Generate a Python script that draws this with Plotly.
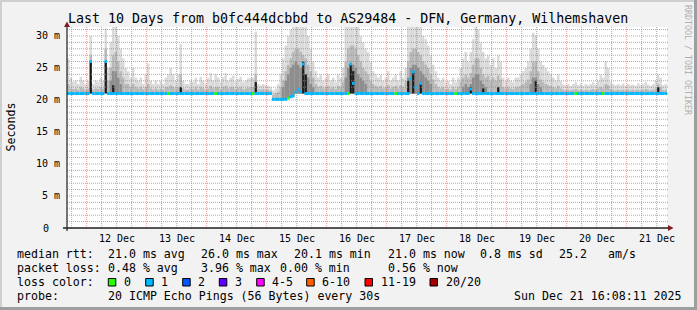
import plotly.graph_objects as go
import pandas as pd
import numpy as np

# ---------------- data ----------------
T_START = pd.Timestamp("2025-12-11 16:08:11")
T_END = pd.Timestamp("2025-12-21 16:08:11")

# hourly maximum of the smoke (ms)
smoke_max = [
    26.5, 23.5, 22.8, 23.0, 22.5, 23.6, 23.0, 22.5, 23.0, 30.0, 22.5, 23.0, 22.8, 23.5, 23.0, 31.2, 25.0, 29.0, 31.4, 31.4, 30.0, 28.0, 26.5, 25.0,
    24.5, 23.5, 25.0, 23.5, 23.0, 23.5, 22.5, 24.0, 25.7, 23.0, 22.5, 23.0, 22.5, 23.0, 22.5, 23.5, 24.0, 25.0, 24.0, 23.0, 24.0, 28.7, 23.0, 22.5,
    22.5, 23.0, 22.8, 23.5, 22.5, 23.6, 23.0, 22.6, 23.4, 24.2, 23.0, 24.0, 23.5, 22.8, 23.6, 24.2, 23.0, 23.5, 23.8, 22.8, 23.3, 23.6, 22.8, 23.0,
    23.4, 23.5, 23.5, 30.7, 22.5, 22.3, 22.5, 22.3, 22.2, 22.0, 21.5, 21.8, 22.5, 24.0, 26.5, 28.5, 30.0, 31.0, 31.4, 31.4, 31.4, 31.4, 31.4, 31.4,
    30.0, 28.0, 26.0, 24.5, 23.5, 24.0, 23.0, 23.5, 24.0, 23.0, 23.5, 22.8, 24.0, 23.5, 25.0, 31.4, 31.4, 31.4, 31.4, 31.4, 31.4, 30.0, 29.0, 28.0,
    27.5, 26.0, 24.5, 24.0, 23.5, 24.0, 23.0, 23.5, 24.5, 23.0, 23.5, 24.0, 23.0, 24.5, 23.5, 25.0, 31.4, 31.4, 31.4, 31.4, 31.4, 31.4, 30.0, 29.5,
    28.5, 27.0, 25.5, 24.5, 23.5, 23.0, 23.5, 22.8, 23.0, 22.5, 23.5, 22.8, 23.5, 25.0, 26.5, 27.5, 26.0, 27.5, 29.5, 31.4, 31.0, 29.0, 27.5, 26.5,
    27.0, 25.5, 26.5, 25.0, 27.0, 26.0, 23.5, 23.0, 23.5, 23.0, 22.8, 23.5, 23.5, 24.0, 24.5, 25.0, 26.0, 28.0, 30.5, 30.0, 28.0, 26.0, 25.5, 25.0,
    24.5, 24.0, 23.5, 23.0, 24.0, 23.0, 22.5, 22.3, 22.5, 22.2, 22.5, 22.8, 22.3, 22.6, 22.2, 22.5, 22.3, 22.5, 22.8, 22.4, 23.0, 24.0, 23.5, 26.0,
    25.0, 22.8, 22.5, 22.3, 22.5, 22.3, 22.6, 22.2, 22.5, 22.3, 22.4, 22.2, 22.6, 22.3, 22.5, 22.8, 22.4, 22.2, 22.5, 23.0, 24.0, 23.5, 22.3, 22.5,
]

# hourly upper edge of the denser (middle) smoke (ms)
smoke_mid = [
    22.5, 21.8, 21.7, 21.8, 21.6, 22.0, 21.8, 21.6, 21.8, 27.0, 21.6, 21.8, 21.7, 22.0, 21.8, 28.0, 23.0, 25.0, 27.0, 27.5, 26.0, 24.5, 23.5, 22.5,
    22.5, 22.0, 22.5, 22.0, 21.8, 22.0, 21.7, 22.0, 22.5, 21.8, 21.6, 21.8, 21.6, 21.8, 21.6, 22.0, 22.0, 22.3, 22.0, 21.8, 22.0, 24.0, 21.8, 21.6,
    21.6, 21.8, 21.7, 22.0, 21.6, 22.0, 21.8, 21.6, 21.8, 22.2, 21.8, 22.0, 22.0, 21.7, 22.0, 22.2, 21.8, 22.0, 22.0, 21.7, 21.9, 22.0, 21.7, 21.8,
    21.9, 22.0, 22.0, 24.0, 21.7, 21.6, 21.7, 21.6, 21.6, 21.5, 20.8, 21.0, 21.3, 22.0, 23.0, 24.5, 25.5, 26.5, 27.5, 28.0, 28.0, 27.5, 27.0, 26.5,
    25.5, 24.5, 23.5, 22.5, 22.0, 22.2, 21.8, 22.0, 22.2, 21.8, 22.0, 21.7, 22.2, 22.0, 22.8, 26.0, 28.0, 28.5, 28.5, 28.0, 27.0, 26.0, 25.0, 24.5,
    24.0, 23.0, 22.5, 22.2, 22.0, 22.2, 21.8, 22.0, 22.3, 21.8, 22.0, 22.2, 21.8, 22.3, 22.0, 23.0, 26.0, 27.5, 28.0, 28.0, 27.5, 27.0, 26.0, 25.5,
    25.0, 24.0, 23.2, 22.5, 22.0, 21.8, 22.0, 21.7, 21.8, 21.6, 22.0, 21.7, 22.0, 22.8, 23.5, 24.0, 23.5, 24.2, 25.5, 26.5, 26.5, 25.0, 24.0, 23.5,
    23.8, 23.0, 23.5, 23.0, 23.8, 23.2, 22.0, 21.8, 22.0, 21.8, 21.7, 22.0, 22.0, 22.2, 22.5, 22.8, 23.2, 24.5, 26.0, 26.0, 24.5, 23.2, 22.8, 22.5,
    22.3, 22.2, 22.0, 21.8, 22.2, 21.8, 21.6, 21.5, 21.6, 21.5, 21.6, 21.7, 21.5, 21.6, 21.5, 21.6, 21.5, 21.6, 21.7, 21.6, 21.8, 22.0, 21.8, 22.5,
    22.3, 21.7, 21.6, 21.5, 21.6, 21.5, 21.6, 21.5, 21.6, 21.5, 21.6, 21.5, 21.6, 21.5, 21.6, 21.7, 21.6, 21.5, 21.6, 21.8, 22.5, 22.0, 21.5, 21.6,
]

# darker core of the large smoke masses: hour index and top (ms)
core_hours = [17, 18, 19, 20, 21,
              86, 87, 88, 89, 90, 91, 92, 93, 94, 95, 96, 97, 98,
              111, 112, 113, 114, 115, 116, 117, 118, 119,
              136, 137, 138, 139, 140, 141, 142, 143, 144, 145,
              158, 159, 160, 161, 162, 163, 164, 165, 166, 167,
              185, 186, 187, 188, 189]
core_tops = [23.0, 24.5, 24.5, 23.5, 22.5,
             22.0, 23.0, 24.0, 25.0, 25.5, 26.0, 25.5, 25.0, 24.5, 24.0, 23.5, 22.5, 22.0,
             23.5, 25.0, 25.5, 25.5, 25.0, 24.0, 23.5, 23.0, 22.5,
             23.5, 25.0, 25.5, 25.5, 25.0, 24.5, 24.0, 23.5, 23.0, 22.5,
             22.0, 22.5, 22.0, 22.5, 23.5, 24.0, 24.0, 23.0, 22.5, 22.0,
             22.5, 23.5, 23.5, 22.5, 22.0]

# hourly median rtt (ms)
median_rtt = [
    21.0, 21.0, 21.0, 21.0, 21.0, 21.0, 21.0, 21.0, 21.0, 26.0, 21.0, 21.0, 21.0, 21.0, 21.0, 26.0, 21.0, 21.0, 21.0, 21.0, 21.0, 21.0, 21.0, 21.0,
    21.0, 21.0, 21.0, 21.0, 21.0, 21.0, 21.0, 21.0, 21.0, 21.0, 21.0, 21.0, 21.0, 21.0, 21.0, 21.0, 21.0, 21.0, 21.0, 21.0, 21.0, 21.0, 21.0, 21.0,
    21.0, 21.0, 21.0, 21.0, 21.0, 21.0, 21.0, 21.0, 21.0, 21.0, 21.0, 21.0, 21.0, 21.0, 21.0, 21.0, 21.0, 21.0, 21.0, 21.0, 21.0, 21.0, 21.0, 21.0,
    21.0, 21.0, 21.0, 21.0, 21.0, 21.0, 21.0, 21.0, 21.0, 21.0, 20.1, 20.1, 20.1, 20.1, 20.1, 20.1, 20.3, 20.5, 20.6, 21.2, 21.7, 21.3, 25.6, 21.0,
    21.0, 21.0, 21.0, 21.0, 21.0, 21.0, 21.0, 21.0, 21.0, 21.0, 21.0, 21.0, 21.0, 21.0, 21.0, 21.0, 21.0, 25.6, 22.6, 21.0, 21.0, 21.0, 21.0, 21.0,
    21.0, 21.0, 21.0, 21.0, 21.0, 21.0, 21.0, 21.0, 21.0, 21.0, 21.0, 21.0, 21.0, 21.0, 21.0, 21.0, 21.0, 23.3, 24.4, 22.0, 21.0, 22.6, 21.0, 21.0,
    21.0, 21.0, 21.0, 21.0, 21.0, 21.0, 21.0, 21.0, 21.0, 21.0, 21.0, 21.0, 21.0, 21.0, 21.0, 21.0, 21.0, 21.7, 21.0, 21.0, 21.0, 21.0, 21.0, 21.0,
    21.0, 21.0, 21.0, 21.0, 21.0, 21.0, 21.0, 21.0, 21.0, 21.0, 21.0, 21.0, 21.0, 21.0, 21.0, 21.0, 21.0, 21.0, 21.0, 21.0, 21.0, 21.0, 21.0, 21.0,
    21.0, 21.0, 21.0, 21.0, 21.0, 21.0, 21.0, 21.0, 21.0, 21.0, 21.0, 21.0, 21.0, 21.0, 21.0, 21.0, 21.0, 21.0, 21.0, 21.0, 21.0, 21.0, 21.0, 21.0,
    21.0, 21.0, 21.0, 21.0, 21.0, 21.0, 21.0, 21.0, 21.0, 21.0, 21.0, 21.0, 21.0, 21.0, 21.0, 21.0, 21.0, 21.0, 21.0, 21.0, 21.0, 21.0, 21.0, 21.0,
]

# hours (from start) where no ping was lost (green), elsewhere 1/20 lost (cyan)
zero_loss_hours = [40, 59, 74, 88, 112, 131, 155, 203, 214]

# dense dark smoke columns: hour index and top (ms)
dark_hours = [9, 15, 18, 45, 75, 94, 95, 113, 114, 136, 138, 141, 161, 166, 172, 187, 236]
dark_tops = [26.0, 26.0, 22.3, 22.0, 22.8, 26.0, 24.0, 25.6, 24.5, 23.0, 24.5, 22.5, 22.0, 21.8, 22.0, 23.0, 22.0]

day_labels = ["12 Dec", "13 Dec", "14 Dec", "15 Dec", "16 Dec", "17 Dec", "18 Dec", "19 Dec", "20 Dec", "21 Dec"]
y_ticks = [0, 5, 10, 15, 20, 25, 30]
y_tick_labels = ["0", "5 m", "10 m", "15 m", "20 m", "25 m", "30 m"]

loss_labels = ["0", "1", "2", "3", "4-5", "6-10", "11-19", "20/20"]
loss_colors = ["#26ff00", "#00b8ff", "#0059ff", "#5e00ff", "#ff00ff", "#ff5e00", "#ff0000", "#a10000"]

stats_rtt = ["median rtt:", "21.0 ms avg", "26.0 ms max", "20.1 ms min", "21.0 ms now", "0.8 ms sd", "25.2", "am/s"]
stats_loss = ["packet loss:", "0.48 % avg", "3.96 % max", "0.00 % min", "0.56 % now"]
probe_text = ["probe:", "20 ICMP Echo Pings (56 Bytes) every 30s", "Sun Dec 21 16:08:11 2025"]
title = "Last 10 Days from b0fc444dcbbd to AS29484 - DFN, Germany, Wilhemshaven"

# ---------------- layout helpers ----------------
W, H = 697, 310
L, R, T, B = 67, 667, 27, 228
YMAX = 31.4


def xp(px):
    return (px - L) / (R - L)


def yp(py):
    return (B - py) / (B - T)


MONO = "DejaVu Sans Mono"
hours = pd.date_range(T_START + pd.Timedelta(minutes=30), periods=len(smoke_max), freq="h")
HOUR_MS = 3600000

med = np.array(median_rtt)
floor = np.minimum(med, 21.0)
smax = np.array(smoke_max)
smid = np.array(smoke_mid)
loss = np.ones(len(med), dtype=int)
loss[zero_loss_hours] = 0

fig = go.Figure()
fig.add_bar(x=hours, y=smax - floor, base=floor, width=HOUR_MS,
            marker=dict(color="#dbdbdb", line=dict(width=0)), hoverinfo="skip")
fig.add_bar(x=hours, y=smid - floor, base=floor, width=HOUR_MS,
            marker=dict(color="#b9b9b9", line=dict(width=0)), hoverinfo="skip")
ch = hours[core_hours]
cfloor = floor[core_hours]
fig.add_bar(x=ch, y=np.array(core_tops) - cfloor, base=cfloor, width=HOUR_MS,
            marker=dict(color="#8e8e8e", line=dict(width=0)), hoverinfo="skip")
dh = hours[dark_hours]
fig.add_bar(x=dh, y=np.array(dark_tops) - 21.0, base=21.0, width=HOUR_MS * 0.9,
            marker=dict(color="#1c1c1c", line=dict(width=0)), hoverinfo="skip")
fig.add_bar(x=hours, y=np.full(len(med), 0.46), base=med - 0.23, width=HOUR_MS,
            marker=dict(color=[loss_colors[v] for v in loss], line=dict(width=0)), hoverinfo="skip")

shapes = []
MINOR = "rgba(143,143,143,0.75)"
MAJOR = "rgba(222,79,79,0.6)"
# vertical grid every 6h, major at midnight
for t in pd.date_range("2025-12-11 18:00", "2025-12-21 12:00", freq="6h"):
    shapes.append(dict(type="line", xref="x", yref="paper", x0=t, x1=t, y0=0, y1=1,
                       line=dict(color=MAJOR if t.hour == 0 else MINOR, width=1, dash="1px,1px"),
                       layer="above"))
# horizontal grid every 1 ms, major every 5 ms
for v in range(1, 32):
    shapes.append(dict(type="line", xref="paper", yref="y", x0=0, x1=xp(668), y0=v, y1=v,
                       line=dict(color=MAJOR if v % 5 == 0 else MINOR, width=1, dash="1px,1px"),
                       layer="above"))
AXIS = "#1f1f1f"
ARROW = "#801f1f"
shapes.append(dict(type="line", xref="paper", yref="paper", x0=xp(63), x1=xp(669), y0=0, y1=0,
                   line=dict(color=AXIS, width=1.5), layer="above"))
shapes.append(dict(type="line", xref="paper", yref="paper", x0=0, x1=0, y0=yp(231), y1=yp(25),
                   line=dict(color=AXIS, width=1.2), layer="above"))
shapes.append(dict(type="path", xref="paper", yref="paper",
                   path=f"M {xp(668)},{yp(225)} L {xp(673.5)},{yp(228)} L {xp(668)},{yp(231)} Z",
                   fillcolor=ARROW, line=dict(width=0), layer="above"))
shapes.append(dict(type="path", xref="paper", yref="paper",
                   path=f"M {xp(64)},{yp(27)} L {xp(67)},{yp(21.5)} L {xp(70)},{yp(27)} Z",
                   fillcolor=ARROW, line=dict(width=0), layer="above"))
# 3D frame
shapes.append(dict(type="rect", xref="paper", yref="paper", x0=xp(0), x1=xp(2), y0=yp(310), y1=yp(0),
                   fillcolor="#cfcfcf", line=dict(width=0)))
shapes.append(dict(type="rect", xref="paper", yref="paper", x0=xp(0), x1=xp(697), y0=yp(2), y1=yp(0),
                   fillcolor="#cfcfcf", line=dict(width=0)))
shapes.append(dict(type="rect", xref="paper", yref="paper", x0=xp(694), x1=xp(697), y0=yp(310), y1=yp(0),
                   fillcolor="#9e9e9e", line=dict(width=0)))
shapes.append(dict(type="rect", xref="paper", yref="paper", x0=xp(0), x1=xp(697), y0=yp(310), y1=yp(307),
                   fillcolor="#9e9e9e", line=dict(width=0)))

annotations = []


def txt(s, px, py, size=11.6, anchor="left", color="#000000", angle=0, xref="paper", xval=None):
    annotations.append(dict(text=s, x=xp(px) if xval is None else xval, y=yp(py), xref=xref, yref="paper",
                            xanchor=anchor, yanchor="middle", showarrow=False, textangle=angle,
                            borderpad=0, font=dict(family=MONO, size=size, color=color)))


txt(title, 347.5, 19, size=13.3, anchor="center")
txt("Seconds", 10.5, 127, size=11.6, anchor="center", angle=-90)
txt("RRDTOOL / TOBI OETIKER", 688, 60, size=8.3, anchor="center", color="#b0b0b0", angle=90)

for v, lab in zip(y_ticks, y_tick_labels):
    annotations.append(dict(text=lab, x=xp(49.5 if lab == "0" else 60.5), y=v, xref="paper", yref="y",
                            xanchor="right", yanchor="middle", showarrow=False, borderpad=0,
                            font=dict(family=MONO, size=10, color="#000000")))
for i, lab in enumerate(day_labels):
    noon = pd.Timestamp("2025-12-12 12:00") + pd.Timedelta(days=i)
    txt(lab, 0, 238, size=10, anchor="center", xref="x", xval=noon)

for s, px in zip(stats_rtt, [16, 107.3, 200, 293.3, 386.7, 479.3, 558.3, 606.7]):
    txt(s, px, 254)
for s, px in zip(stats_loss, [16, 107.3, 200, 279.3, 386.7]):
    txt(s, px, 268)
txt("loss color:", 16, 282)
box_x = [108.3, 145.7, 182.7, 219.3, 256.7, 306.7, 365.0, 430.0]
for lab, col, bx in zip(loss_labels, loss_colors, box_x):
    shapes.append(dict(type="rect", xref="paper", yref="paper", x0=xp(bx), x1=xp(bx + 7.5),
                       y0=yp(286), y1=yp(278.5), fillcolor=col, line=dict(color="#000000", width=1)))
    txt(lab, bx + 14.5, 282)
for s, px in zip(probe_text, [16, 107.3, 513.3]):
    txt(s, px, 296)

fig.update_layout(
    width=W, height=H, autosize=False,
    margin=dict(l=L, r=W - R, t=T, b=H - B, pad=0),
    paper_bgcolor="#f2f2f2", plot_bgcolor="#ffffff",
    barmode="overlay", showlegend=False,
    shapes=shapes, annotations=annotations,
    xaxis=dict(type="date", range=[T_START, T_END], showgrid=False, showticklabels=False,
               zeroline=False, showline=False, ticks="", fixedrange=True),
    yaxis=dict(range=[0, YMAX], showgrid=False, showticklabels=False, zeroline=False,
               showline=False, ticks="", fixedrange=True),
)

fig.write_html("out.html", config={"displayModeBar": False})
